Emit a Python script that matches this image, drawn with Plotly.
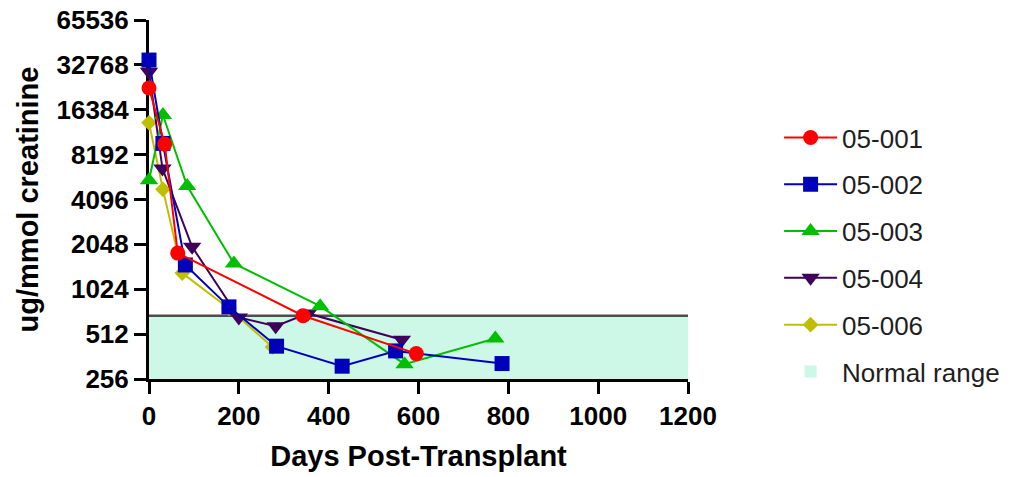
import plotly.graph_objects as go

# Urine values (ug/mmol creatinine) by days post-transplant, per patient
patients = ["05-001", "05-002", "05-003", "05-004", "05-006"]

days_001 = [0, 35, 64, 343, 595]
vals_001 = [22900, 9640, 1790, 680, 379]

days_002 = [0, 31, 81, 178, 284, 430, 549, 786]
vals_002 = [35300, 9740, 1490, 780, 425, 312, 395, 325]

days_003 = [0, 31, 85, 189, 381, 569, 771]
vals_003 = [5520, 15100, 5040, 1525, 789, 322, 479]

days_004 = [0, 30, 96, 200, 282, 354, 563]
vals_004 = [29500, 6610, 1973, 662, 579, 705, 470]

days_006 = [0, 31, 74, 178, 275]
vals_006 = [13400, 4790, 1314, 760, 420]

# Normal range band
normal_low = 256
normal_high = 680

y_tickvals = [256, 512, 1024, 2048, 4096, 8192, 16384, 32768, 65536]
y_ticktext = ["256", "512", "1024", "2048", "4096", "8192", "16384", "32768", "65536"]
x_tickvals = [0, 200, 400, 600, 800, 1000, 1200]

series = {
    "05-001": (days_001, vals_001, "#ff0000", "circle", 15),
    "05-002": (days_002, vals_002, "#0000bb", "square", 15),
    "05-003": (days_003, vals_003, "#00bf00", "triangle-up", 16),
    "05-004": (days_004, vals_004, "#3f005c", "triangle-down", 16),
    "05-006": (days_006, vals_006, "#bfbf00", "diamond", 12),
}

fig = go.Figure()

# draw later patients first so 05-001 ends up on top
for rank, name in reversed(list(enumerate(patients))):
    d, v, color, symbol, size = series[name]
    fig.add_trace(go.Scatter(
        x=d, y=v, name=name, mode="lines+markers",
        line=dict(color=color, width=2),
        marker=dict(color=color, symbol=symbol, size=size, line=dict(width=0)),
        legendgroup=name, legendrank=rank + 1,
        cliponaxis=False,
    ))

# normal range: shaded band plus its upper boundary
fig.add_shape(
    type="rect", xref="x", yref="y", x0=0, x1=1200, y0=normal_low, y1=normal_high,
    fillcolor="#cdf7e6", line=dict(width=0), layer="below",
    showlegend=True, name="Normal range", legendgroup="normal", legendrank=10,
)
fig.add_shape(
    type="line", xref="x", yref="y", x0=0, x1=1200, y0=normal_high, y1=normal_high,
    line=dict(color="#4d4d4d", width=2.5), layer="below",
)

axis_font = dict(family="Liberation Sans, Arial, sans-serif", size=26, color="black", weight="bold")
title_font = dict(family="Liberation Sans, Arial, sans-serif", size=29, color="black", weight="bold")

fig.update_xaxes(
    range=[0, 1200], tickvals=x_tickvals, showgrid=False, zeroline=False,
    showline=True, linecolor="black", linewidth=3,
    ticks="outside", ticklen=12, tickwidth=3, tickcolor="black",
    tickfont=axis_font, layer="below traces",
    title=dict(text="Days Post-Transplant", font=title_font, standoff=16),
)
fig.update_yaxes(
    type="log", range=[2.40824, 4.81648], tickvals=y_tickvals, ticktext=y_ticktext,
    showgrid=False, zeroline=False,
    showline=True, linecolor="black", linewidth=3,
    ticks="outside", ticklen=12, tickwidth=3, tickcolor="black",
    tickfont=axis_font, layer="below traces",
    title=dict(text="ug/mmol creatinine", font=title_font, standoff=10),
)

fig.update_layout(
    width=1032, height=477,
    margin=dict(l=149, r=344, t=20, b=98, autoexpand=False),
    plot_bgcolor="white", paper_bgcolor="white",
    showlegend=True,
    legend=dict(
        x=1.169, xanchor="left", y=0.738, yanchor="top",
        traceorder="grouped", tracegroupgap=10, itemwidth=53,
        font=dict(family="Liberation Sans, Arial, sans-serif", size=26, color="#1e1e1e"),
        bgcolor="rgba(0,0,0,0)",
    ),
)

fig.write_html("out.html")
